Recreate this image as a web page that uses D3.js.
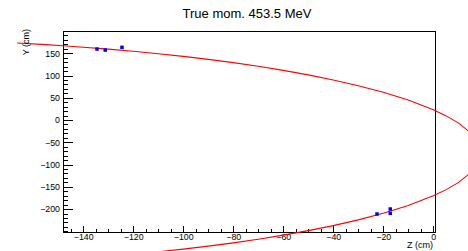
<!DOCTYPE html>
<html>
<head>
<meta charset="utf-8">
<script src="https://cdn.jsdelivr.net/npm/d3@7"></script>
<style>
  body { margin: 0; background: #fff; }
  text { font-family: "Liberation Sans", Arial, sans-serif; fill: #000; }
</style>
</head>
<body>
<div id="chart"></div>
<script>
// track projection (Z, Y) in cm
var trackZ = [-166.4, -155, -148, -140, -130, -120, -110, -100, -90, -80,
              -70, -60, -50, -40, -30, -20, -10, 0, 5, 10,
              15, 18, 18.9, 18, 15, 10, 5, 0, -10, -20,
              -30, -40, -50, -60, -70, -80, -90, -100, -112];
var trackY = [172.9, 169.3, 166.8, 163.5, 159.3, 154.4, 148.8, 142.9, 136.3, 128.9,
              120.7, 111.6, 101.4, 90.1, 77.2, 62.3, 44.8, 23.2, 9.9, -6.4,
              -28.8, -51.7, -73.5, -95.3, -118.2, -140.6, -156.9, -170.2, -191.8, -209.3,
              -224.2, -237.1, -248.4, -258.6, -267.7, -275.9, -283.3, -289.9, -297.2];

// measured hits
var hitZ = [-134.5, -131.2, -124.5, -22.5, -17.2, -17.2];
var hitY = [159.5, 157.2, 163.3, -211.1, -199.9, -209.6];

var xTicks = [-140, -120, -100, -80, -60, -40, -20, 0];
var yTicks = [-200, -150, -100, -50, 0, 50, 100, 150];
var titleText = "True mom. 453.5 MeV";

var W = 468, H = 251;
var margin = {top: 31, right: 33, bottom: 19, left: 63},
    width = W - margin.left - margin.right,
    height = H - margin.top - margin.bottom;

var x = d3.scaleLinear().domain([-148.1, 0.7]).range([0, width]);
var y = d3.scaleLinear().domain([-251.5, 200]).range([height, 0]);

var svg = d3.select("#chart").append("svg")
    .attr("width", W)
    .attr("height", H)
  .append("g")
    .attr("transform", "translate(" + margin.left + "," + margin.top + ")");

function fmt(d) { return d < 0 ? "\u2212" + Math.abs(d) : "" + d; }

// frame
svg.append("rect")
    .attr("x", 0).attr("y", 0)
    .attr("width", width).attr("height", height)
    .attr("fill", "none")
    .attr("stroke", "#000")
    .attr("stroke-width", 1)
    .attr("shape-rendering", "crispEdges");

// minor ticks
var xMinor = d3.range(-145, 1, 5).filter(function(d) { return xTicks.indexOf(d) < 0; });
var yMinor = d3.range(-250, 201, 10).filter(function(d) { return yTicks.indexOf(d) < 0; });

svg.append("g")
    .attr("transform", "translate(0," + height + ")")
    .call(d3.axisBottom(x).tickValues(xMinor).tickSize(-3.5).tickFormat(""))
    .call(function(g) { g.select(".domain").remove(); });

svg.append("g")
    .call(d3.axisLeft(y).tickValues(yMinor).tickSize(-5).tickFormat(""))
    .call(function(g) { g.select(".domain").remove(); });

// major ticks + labels
var xAxis = svg.append("g")
    .attr("transform", "translate(0," + height + ")")
    .call(d3.axisBottom(x).tickValues(xTicks).tickSize(-6.5).tickPadding(2).tickFormat(fmt));
xAxis.select(".domain").remove();
xAxis.selectAll("text").attr("font-size", "8.8px").attr("font-family", "Liberation Sans, Arial, sans-serif");

var yAxis = svg.append("g")
    .call(d3.axisLeft(y).tickValues(yTicks).tickSize(-10).tickPadding(3).tickFormat(fmt));
yAxis.select(".domain").remove();
yAxis.selectAll("text").attr("font-size", "8.8px").attr("font-family", "Liberation Sans, Arial, sans-serif");

svg.selectAll(".tick line").attr("stroke", "#000").attr("shape-rendering", "crispEdges");

// track curve (not clipped, like the original)
var line = d3.line()
    .x(function(d, i) { return x(trackZ[i]); })
    .y(function(d, i) { return y(trackY[i]); });

svg.append("path")
    .datum(trackZ)
    .attr("d", line)
    .attr("fill", "none")
    .attr("stroke", "#ff0000")
    .attr("stroke-width", 1.1);

// hits
svg.selectAll(".hit")
    .data(hitZ)
  .enter().append("rect")
    .attr("class", "hit")
    .attr("x", function(d) { return x(d) - 1.75; })
    .attr("y", function(d, i) { return y(hitY[i]) - 1.75; })
    .attr("width", 3.5)
    .attr("height", 3.5)
    .attr("fill", "#0000ff");

// titles
svg.append("text")
    .attr("x", x(-74.5))
    .attr("y", -13)
    .attr("text-anchor", "middle")
    .attr("font-size", "13px")
    .text(titleText);

svg.append("text")
    .attr("x", width - 2)
    .attr("y", height + 16)
    .attr("text-anchor", "end")
    .attr("font-size", "9px")
    .text("Z (cm)");

svg.append("text")
    .attr("transform", "translate(" + (-34.5) + ",-2) rotate(-90)")
    .attr("text-anchor", "end")
    .attr("font-size", "9px")
    .text("Y (cm)");
</script>
</body>
</html>
